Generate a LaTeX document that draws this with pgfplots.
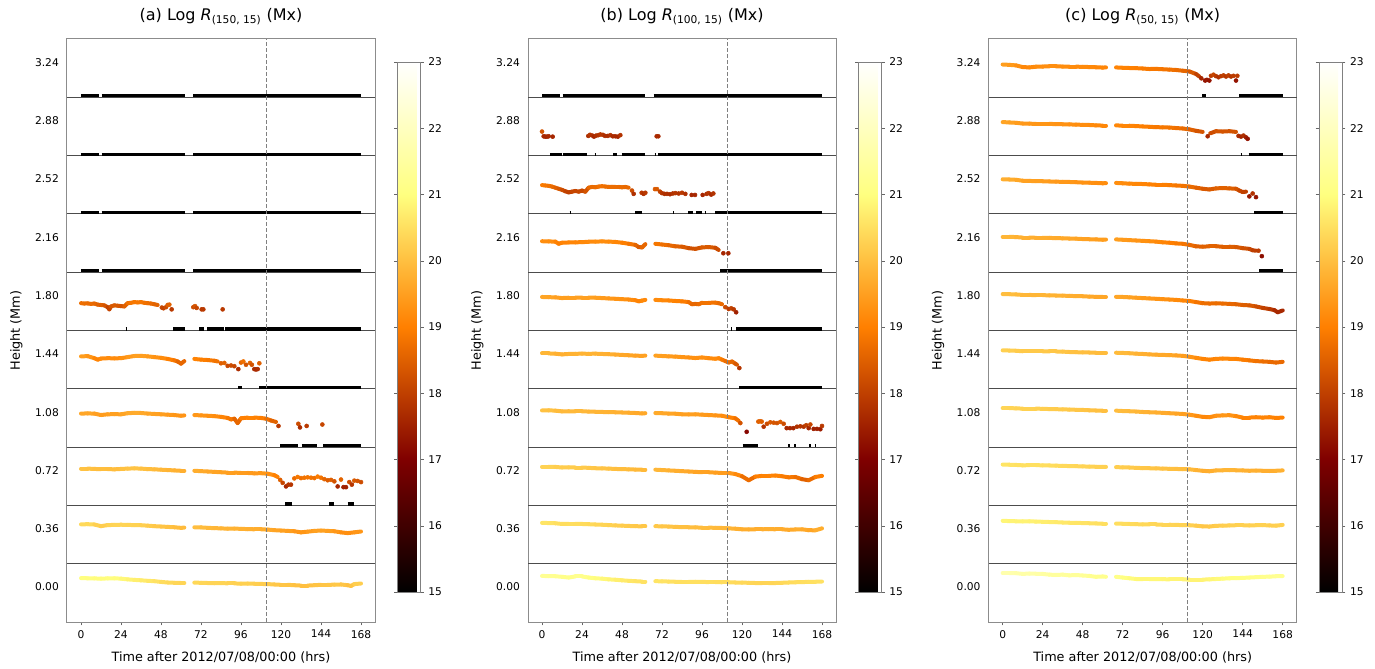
\documentclass[border=0pt]{standalone}
\usepackage{fontspec}
\setmainfont{DejaVu Sans}
\usepackage{pgfplots}
\pgfplotsset{compat=1.18}

\pgfplotsset{
  colormap={afmhot}{rgb=(0,0,0) rgb=(0.5,0,0) rgb=(1,0.5,0) rgb=(1,1,0.5) rgb=(1,1,1)},
  /pgf/number format/assume math mode=true,
  lnst/.style={mesh, mark=none, line width=3pt, line cap=round, line join=round, point meta=\thisrow{v}},
  dtst/.style={scatter, only marks, mark=*, mark size=1.5pt, point meta=\thisrow{v},
    scatter/use mapped color={draw=mapped color, fill=mapped color}},
  bkst/.style={black, line width=2.4pt, mark=none},
  panel/.style={
    scale only axis, width=231pt, height=437.25pt, anchor=south west,
    xmin=-8.4, xmax=176.4, ymin=0, ymax=10, clip=false,
    colormap name=afmhot, point meta min=15, point meta max=23,
    font=\fontsize{8}{9.6}\selectfont,
    xtick={0,24,...,168}, xtick pos=bottom, ytick pos=left,
    ytick={0.6,1.6,2.6,3.6,4.6,5.6,6.6,7.6,8.6,9.6},
    yticklabels={0.00,0.36,0.72,1.08,1.44,1.80,2.16,2.52,2.88,3.24},
    ytick style={draw=none},
    tick align=outside, major tick length=2.6pt,
    xtick style={black!60, line width=0.6pt},
    extra y ticks={1,2,3,4,5,6,7,8,9}, extra y tick labels={},
    extra y tick style={grid=major, major grid style={black!70, line width=0.75pt},
      tick style={draw=black!70, line width=0.75pt}},
    axis line style={black!45, line width=0.75pt},
    xlabel={Time after 2012/07/08/00:00 (hrs)},
    ylabel={Height (Mm)},
    label style={font=\fontsize{9.6}{11.5}\selectfont},
    xlabel style={at={(axis description cs:0.5,-0.0686)}, anchor=base},
    ylabel style={at={(axis description cs:-0.1645,0.5)}, anchor=center},
    title style={at={(axis description cs:0.5,1.0175)}, anchor=base, font=\fontsize{12}{14}\selectfont},
    colorbar,
    colorbar style={
      at={(parent axis.east)}, anchor=west, xshift=8.25pt, yshift=2.6pt,
      scale only axis, width=17.25pt, height=397.5pt,
      ytick={15,16,...,23}, tick align=outside, major tick length=2.5pt,
      yticklabel style={font=\fontsize{8}{9.6}\selectfont},
      axis line style={black!50, line width=0.6pt}, tick style={black!60},
    },
  },
}

\newcommand\segL[2]{\addplot[lnst] table[row sep=\\, y expr={#1+(\thisrow{v}-15)/8}] {t v\\#2};}
\newcommand\segD[2]{\addplot[dtst] table[row sep=\\, y expr={#1+(\thisrow{v}-15)/8}] {t v\\#2};}
\newcommand\segB[3]{\addplot[bkst] table[row sep=\\, y expr={#1+0.025+(\thisrow{v}-15)/8}] {t v\\#2 15\\#3 15\\};}
\newcommand\flare{\addplot[black!50, line width=0.75pt, dash pattern=on 3pt off 1.5pt] coordinates {(111,0) (111,10)};}

\begin{document}
\begin{tikzpicture}
\useasboundingbox (0,0) rectangle (1031.25pt,501pt);

% ---------------- (a) ----------------
\begin{axis}[panel, at={(50.25pt,34.5pt)}, title={(a) Log \textit{R}\textsubscript{(150, 15)} (Mx)}]
\segB{9}{0}{11}\segB{9}{12.4}{62.4}\segB{9}{67.4}{168}
\segB{8}{0}{11}\segB{8}{12.4}{62.4}\segB{8}{67.4}{168}
\segB{7}{0}{11}\segB{7}{12.4}{62.4}\segB{7}{67.4}{168}
\segB{6}{0}{11}\segB{6}{12.4}{62.4}\segB{6}{67.4}{168}
\segB{5}{26.8}{27.4}\segB{5}{55.4}{62.4}\segB{5}{71}{73.6}\segB{5}{75.6}{85.6}\segB{5}{86.4}{168}
\segB{4}{94.4}{96.4}\segB{4}{107}{168}
\segB{3}{119.4}{130.4}\segB{3}{132.4}{141.4}\segB{3}{145.4}{168}
\segB{2}{122.4}{126.4}\segB{2}{149}{152}\segB{2}{160}{164}

\segL{0}{0 21.02\\4 21.0\\8 20.98\\12 20.95\\16 20.98\\20 21.0\\24 20.95\\28 20.85\\32 20.78\\36 20.72\\40 20.65\\44 20.6\\48 20.5\\52 20.42\\56 20.38\\60 20.35\\62 20.35\\}
\segL{0}{68 20.4\\72 20.38\\76 20.35\\80 20.32\\84 20.35\\88 20.3\\92 20.3\\96 20.25\\100 20.28\\104 20.25\\108 20.22\\112 20.2\\116 20.15\\120 20.1\\124 20.1\\128 20.05\\132 20.0\\136 20.0\\140 20.05\\144 20.1\\148 20.1\\152 20.12\\156 20.15\\160 20.05\\162 19.95\\164 20.2\\168 20.28\\}
\segL{1}{0 20.4\\4 20.42\\8 20.38\\12 20.15\\16 20.3\\20 20.32\\24 20.35\\28 20.32\\32 20.3\\36 20.28\\40 20.22\\44 20.15\\48 20.1\\52 20.05\\56 20.0\\60 19.92\\62 19.95\\}
\segL{1}{68 20.0\\72 19.98\\76 19.92\\80 19.88\\84 19.85\\88 19.8\\92 19.82\\96 19.78\\100 19.75\\104 19.72\\108 19.72\\112 19.68\\116 19.6\\120 19.55\\124 19.5\\128 19.45\\132 19.3\\136 19.4\\140 19.5\\144 19.55\\148 19.5\\152 19.45\\156 19.3\\160 19.2\\164 19.3\\168 19.42\\}
\segL{2}{0 20.05\\4 20.05\\8 20.0\\12 19.98\\16 19.98\\20 19.95\\24 20.0\\28 20.05\\32 20.08\\36 20.05\\40 19.98\\44 19.95\\48 19.9\\52 19.85\\56 19.8\\60 19.75\\62 19.75\\}
\segL{2}{68 19.75\\72 19.7\\76 19.65\\80 19.6\\84 19.55\\88 19.5\\92 19.5\\96 19.45\\100 19.45\\104 19.4\\108 19.42\\112 19.35\\116 19.15\\118 18.9\\}
\segD{2}{119.5 18.5\\121 18.1\\123 17.6\\124.5 17.85\\126 17.85\\128 18.7\\130 18.9\\132 18.75\\134 18.8\\136 18.85\\138 18.8\\140 18.75\\142 18.95\\144 18.8\\146 18.6\\148 18.45\\150 18.5\\152 18.3\\154 17.6\\156 18.55\\157.5 17.5\\159 17.5\\161 18.2\\162.5 17.85\\164 18.4\\166 18.35\\168 18.2\\}
\segL{3}{0 19.6\\4 19.62\\8 19.6\\12 19.4\\16 19.5\\20 19.52\\24 19.5\\28 19.65\\32 19.7\\36 19.68\\40 19.6\\44 19.55\\48 19.5\\52 19.45\\56 19.4\\60 19.3\\62 19.35\\}
\segL{3}{68 19.4\\72 19.35\\76 19.3\\80 19.25\\84 19.15\\88 19.0\\90 18.8\\92 18.9\\94 18.3\\96 18.95\\100 19.05\\104 19.05\\108 19.0\\111 18.9\\114 18.65\\117 18.45\\}
\segD{3}{118.5 17.9\\130.4 18.2\\131.4 17.7\\135.4 17.9\\144.8 18.1\\}
\segL{4}{0 19.45\\4 19.48\\8 19.2\\10 19.0\\12 19.15\\16 19.2\\20 19.18\\24 19.2\\28 19.35\\32 19.5\\36 19.52\\40 19.45\\44 19.35\\48 19.25\\52 19.1\\56 18.9\\58 18.75\\60 18.45\\62 18.8\\}
\segL{4}{68 19.1\\72 19.0\\76 18.95\\80 18.85\\82 18.75\\}
\segD{4}{84 18.5\\86 18.55\\88 18.15\\90 18.2\\92 18.1\\94.4 17.7\\96 18.6\\97.4 18.75\\99 18.3\\101.4 18.55\\102.5 18.3\\104 17.7\\105 17.65\\106 17.7\\107 18.5\\}
\segL{5}{0 18.75\\2 18.7\\4 18.72\\6 18.65\\8 18.7\\10 18.55\\12 18.5\\14 18.45\\16 18.2\\17 17.9\\18 18.3\\20 18.45\\22 18.4\\24 18.35\\26 18.3\\28 18.75\\30 18.8\\32 18.9\\34 18.85\\36 18.9\\38 18.8\\40 18.75\\42 18.7\\44 18.6\\46 18.5\\}
\segD{5}{48.5 18.15\\49.5 18.05\\51 18.2\\52 18.5\\53 18.55\\54.4 17.9\\67.4 18.2\\68.4 18.35\\69.4 18.1\\72.4 17.9\\73.4 17.9\\85 17.9\\}
\flare
\end{axis}

% ---------------- (b) ----------------
\begin{axis}[panel, at={(396pt,34.5pt)}, title={(b) Log \textit{R}\textsubscript{(100, 15)} (Mx)}]
\segB{9}{0}{11}\segB{9}{12.4}{62}\segB{9}{67}{168}
\segB{8}{4.8}{11.8}\segB{8}{12.4}{26.8}\segB{8}{31.6}{32}\segB{8}{42.8}{44.8}\segB{8}{47.8}{61.8}\segB{8}{67.6}{68}\segB{8}{69.8}{168}
\segB{7}{16.6}{17.2}\segB{7}{55.8}{59.8}\segB{7}{78.6}{79.2}\segB{7}{87.8}{90.8}\segB{7}{92.4}{95.8}\segB{7}{97.6}{98.2}\segB{7}{103.8}{168}
\segB{6}{106.8}{168}
\segB{5}{113.6}{114.2}\segB{5}{116.4}{168}
\segB{4}{118.4}{168}
\segB{3}{120.4}{129.8}\segB{3}{147.8}{149}\segB{3}{151.4}{152.6}\segB{3}{160.4}{161.4}\segB{3}{163.6}{164.6}

\segL{0}{0 21.32\\4 21.3\\8 21.28\\12 21.2\\16 21.1\\20 21.25\\24 21.25\\28 21.1\\32 21.0\\36 20.95\\40 20.85\\44 20.8\\48 20.72\\52 20.65\\56 20.6\\60 20.55\\62 20.55\\}
\segL{0}{68 20.6\\72 20.58\\76 20.55\\80 20.52\\84 20.5\\88 20.5\\92 20.52\\96 20.5\\100 20.48\\104 20.48\\108 20.45\\112 20.45\\116 20.42\\120 20.4\\124 20.38\\128 20.35\\132 20.33\\136 20.33\\140 20.35\\144 20.38\\148 20.42\\152 20.45\\156 20.48\\160 20.5\\164 20.52\\168 20.55\\}
\segL{1}{0 20.6\\4 20.58\\8 20.55\\12 20.45\\16 20.48\\20 20.48\\24 20.45\\28 20.42\\32 20.38\\36 20.35\\40 20.3\\44 20.25\\48 20.22\\52 20.18\\56 20.15\\60 20.12\\62 20.12\\}
\segL{1}{68 20.15\\72 20.12\\76 20.1\\80 20.05\\84 20.02\\88 20.0\\92 19.98\\96 19.95\\100 19.95\\104 19.92\\108 19.9\\112 19.85\\116 19.8\\120 19.72\\124 19.7\\128 19.72\\132 19.72\\136 19.75\\140 19.72\\144 19.72\\148 19.65\\152 19.7\\156 19.72\\160 19.6\\164 19.58\\168 19.85\\}
\segL{2}{0 20.3\\4 20.3\\8 20.28\\12 20.2\\16 20.22\\20 20.2\\24 20.2\\28 20.15\\32 20.1\\36 20.08\\40 20.05\\44 20.0\\48 19.98\\52 19.95\\56 19.92\\60 19.9\\62 19.9\\}
\segL{2}{68 19.9\\72 19.85\\76 19.8\\80 19.75\\84 19.7\\88 19.65\\92 19.6\\96 19.55\\100 19.55\\104 19.5\\108 19.45\\112 19.45\\116 19.3\\120 19.0\\124 18.45\\128 18.95\\132 19.05\\136 19.05\\140 19.1\\144 19.0\\148 18.85\\152 18.9\\156 18.6\\160 18.45\\164 18.9\\168 19.05\\}
\segL{3}{0 20.03\\4 20.05\\8 20.0\\12 19.9\\16 19.92\\20 19.9\\24 19.9\\28 19.88\\32 19.85\\36 19.82\\40 19.8\\44 19.78\\48 19.75\\52 19.72\\56 19.68\\60 19.62\\62 19.65\\}
\segL{3}{68 19.68\\72 19.65\\76 19.6\\80 19.58\\84 19.5\\88 19.48\\92 19.5\\96 19.45\\100 19.4\\104 19.35\\108 19.3\\112 19.1\\116 18.95\\118 18.6\\}
\segD{3}{119 18.3\\122.8 17.1\\129.8 18.5\\130.8 18.55\\131.8 18.5\\133 17.8\\135 18.2\\137 18.4\\139 18.35\\141 18.3\\143 18.45\\145 18.2\\146.8 17.6\\148.8 17.6\\150.8 17.6\\153 17.8\\155 17.85\\157 17.8\\158.5 18.0\\160 17.6\\161 18.1\\163 17.5\\165 17.5\\167 17.45\\168 17.9\\}
\segL{4}{0 19.85\\4 19.85\\8 19.82\\12 19.72\\16 19.78\\20 19.8\\24 19.82\\28 19.8\\32 19.82\\36 19.78\\40 19.75\\44 19.7\\48 19.65\\52 19.6\\56 19.55\\60 19.52\\62 19.55\\}
\segL{4}{68 19.55\\72 19.5\\76 19.45\\80 19.42\\84 19.35\\88 19.3\\92 19.22\\96 19.3\\100 19.2\\104 19.12\\106 19.2\\108 19.0\\110 18.8\\112 18.6\\114 18.75\\116 18.45\\117 18.3\\}
\segD{4}{118.4 17.85\\}
\segL{5}{0 19.6\\4 19.57\\8 19.55\\12 19.45\\16 19.5\\20 19.5\\24 19.52\\28 19.52\\32 19.5\\36 19.45\\40 19.4\\44 19.35\\48 19.3\\52 19.25\\56 19.15\\58 19.0\\60 19.1\\62 19.2\\}
\segL{5}{68 19.2\\72 19.15\\76 19.12\\80 19.05\\84 19.0\\88 18.9\\90 18.6\\92 18.65\\94 18.6\\96 18.8\\100 18.8\\104 18.82\\106 18.75\\108 18.6\\}
\segD{5}{110 18.2\\112 17.95\\113.5 18.05\\115 17.9\\116.5 17.5\\}
\segL{6}{0 19.25\\4 19.22\\8 19.2\\10 18.9\\12 19.05\\16 19.08\\20 19.1\\24 19.12\\28 19.18\\32 19.2\\36 19.22\\40 19.2\\44 19.15\\48 19.05\\52 18.9\\56 18.75\\58 18.45\\60 18.4\\62 18.85\\}
\segL{6}{68 18.9\\72 18.8\\76 18.7\\80 18.55\\84 18.5\\88 18.3\\92 18.2\\96 18.4\\100 18.45\\104 18.35\\106 18.05\\}
\segD{6}{108.8 17.6\\111.8 17.6\\}
\segL{7}{0 18.95\\2 18.9\\4 18.85\\6 18.75\\8 18.6\\10 18.45\\12 18.3\\14 18.1\\16 17.95\\18 18.05\\20 18.15\\22 18.05\\24 18.2\\26 18.05\\28 18.6\\30 18.7\\32 18.65\\34 18.75\\36 18.8\\38 18.75\\40 18.7\\42 18.72\\44 18.7\\46 18.7\\48 18.65\\50 18.7\\52 18.6\\}
\segD{7}{54 18.2\\55 17.75\\59.8 17.9\\61 17.75\\62 17.9\\67.8 18.4\\69 18.4\\70.8 18.05\\72 17.85\\73.5 17.75\\75 17.75\\76.8 17.7\\78.5 17.8\\80 17.85\\82 17.8\\84 17.9\\86 17.75\\89.8 17.6\\91.8 17.6\\96.4 17.6\\98.8 17.75\\100 17.85\\101.5 17.65\\102.8 17.8\\}
\segD{8}{0 18.3\\1 17.65\\2 17.6\\3 17.6\\4 17.65\\6.4 17.6\\27.8 17.7\\28.8 17.85\\30.2 17.75\\31.2 17.6\\32.5 17.75\\33.8 17.8\\35 17.9\\36.5 17.85\\37.8 17.7\\39.5 17.7\\41 17.8\\42.5 17.65\\44 17.65\\45.5 17.6\\47 17.8\\68.8 17.65\\69.8 17.65\\}
\flare
\end{axis}

% ---------------- (c) ----------------
\begin{axis}[panel, at={(741.5pt,34.5pt)}, title={(c) Log \textit{R}\textsubscript{(50, 15)} (Mx)}]
\segB{9}{119.8}{122}\segB{9}{141.8}{168}
\segB{8}{142.8}{143.2}\segB{8}{147.6}{168}
\segB{7}{151}{168}
\segB{6}{153.8}{168}

\segL{0}{0 21.72\\4 21.72\\8 21.7\\12 21.6\\16 21.65\\20 21.62\\24 21.6\\28 21.5\\32 21.45\\36 21.5\\40 21.4\\44 21.45\\48 21.38\\52 21.32\\56 21.2\\60 21.25\\62 21.2\\}
\segL{0}{68 21.2\\72 21.1\\76 21.0\\80 20.9\\84 20.88\\88 20.88\\92 20.9\\96 20.88\\100 20.85\\104 20.85\\108 20.85\\112 20.82\\116 20.82\\120 20.82\\124 20.85\\128 20.9\\132 20.95\\136 21.0\\140 21.02\\144 21.05\\148 21.1\\152 21.15\\156 21.2\\160 21.22\\164 21.28\\168 21.3\\}
\segL{1}{0 20.88\\4 20.85\\8 20.82\\12 20.8\\16 20.82\\20 20.78\\24 20.75\\28 20.72\\32 20.7\\36 20.65\\40 20.62\\44 20.6\\48 20.58\\52 20.55\\56 20.52\\60 20.5\\62 20.5\\}
\segL{1}{68 20.5\\72 20.48\\76 20.45\\80 20.42\\84 20.4\\88 20.38\\92 20.38\\96 20.35\\100 20.35\\104 20.32\\108 20.3\\112 20.28\\116 20.22\\120 20.12\\124 20.1\\128 20.2\\132 20.22\\136 20.25\\140 20.28\\144 20.28\\148 20.25\\152 20.28\\156 20.3\\160 20.25\\164 20.22\\168 20.32\\}
\segL{2}{0 20.6\\4 20.58\\8 20.55\\12 20.5\\16 20.52\\20 20.52\\24 20.5\\28 20.48\\32 20.45\\36 20.42\\40 20.4\\44 20.38\\48 20.35\\52 20.32\\56 20.3\\60 20.27\\62 20.28\\}
\segL{2}{68 20.25\\72 20.22\\76 20.2\\80 20.15\\84 20.12\\88 20.1\\92 20.08\\96 20.05\\100 20.02\\104 20.0\\108 19.98\\112 19.95\\116 19.85\\120 19.75\\124 19.68\\128 19.8\\132 19.82\\136 19.85\\140 19.82\\144 19.8\\148 19.75\\152 19.78\\156 19.75\\160 19.72\\164 19.75\\168 19.8\\}
\segL{3}{0 20.35\\4 20.35\\8 20.32\\12 20.28\\16 20.28\\20 20.28\\24 20.25\\28 20.22\\32 20.2\\36 20.18\\40 20.15\\44 20.12\\48 20.1\\52 20.05\\56 20.02\\60 20.0\\62 20.0\\}
\segL{3}{68 20.0\\72 19.95\\76 19.92\\80 19.88\\84 19.82\\88 19.78\\92 19.75\\96 19.7\\100 19.65\\104 19.6\\108 19.55\\112 19.45\\116 19.3\\120 19.15\\124 19.1\\128 19.3\\132 19.35\\136 19.38\\140 19.25\\144 19.05\\148 19.05\\152 19.1\\156 19.05\\160 19.1\\164 19.0\\168 19.05\\}
\segL{4}{0 20.28\\4 20.25\\8 20.22\\12 20.15\\16 20.15\\20 20.15\\24 20.15\\28 20.12\\32 20.12\\36 20.1\\40 20.05\\44 20.02\\48 20.0\\52 19.98\\56 19.95\\60 19.95\\62 19.95\\}
\segL{4}{68 19.95\\72 19.92\\76 19.88\\80 19.82\\84 19.78\\88 19.72\\92 19.68\\96 19.65\\100 19.62\\104 19.58\\108 19.52\\112 19.4\\116 19.25\\120 19.1\\124 19.0\\128 19.1\\132 19.15\\136 19.12\\140 19.1\\144 19.0\\148 18.9\\152 18.8\\156 18.75\\160 18.7\\164 18.6\\168 18.7\\}
\segL{5}{0 20.0\\4 19.98\\8 19.95\\12 19.88\\16 19.88\\20 19.85\\24 19.85\\28 19.82\\32 19.8\\36 19.78\\40 19.75\\44 19.72\\48 19.7\\52 19.65\\56 19.62\\60 19.6\\62 19.6\\}
\segL{5}{68 19.62\\72 19.6\\76 19.55\\80 19.5\\84 19.45\\88 19.4\\92 19.35\\96 19.3\\100 19.25\\104 19.2\\108 19.12\\112 19.05\\116 18.9\\120 18.75\\124 18.7\\128 18.72\\132 18.7\\136 18.65\\140 18.6\\144 18.5\\148 18.45\\152 18.3\\156 18.1\\160 17.95\\163 17.8\\165 17.5\\168 17.75\\}
\segL{6}{0 19.85\\4 19.85\\8 19.82\\12 19.75\\16 19.75\\20 19.72\\24 19.72\\28 19.7\\32 19.68\\36 19.65\\40 19.62\\44 19.6\\48 19.55\\52 19.52\\56 19.5\\60 19.45\\62 19.48\\}
\segL{6}{68 19.5\\72 19.45\\76 19.4\\80 19.35\\84 19.3\\88 19.25\\92 19.2\\96 19.1\\100 19.05\\104 18.95\\108 18.9\\112 18.75\\116 18.55\\120 18.5\\124 18.55\\128 18.55\\132 18.5\\136 18.5\\140 18.45\\144 18.3\\148 18.2\\150 18.0\\152 17.95\\}
\segD{6}{153.5 17.95\\155.5 17.2\\}
\segL{7}{0 19.75\\4 19.72\\8 19.68\\12 19.55\\16 19.52\\20 19.5\\24 19.48\\28 19.45\\32 19.42\\36 19.4\\40 19.38\\44 19.35\\48 19.3\\52 19.28\\56 19.25\\60 19.2\\62 19.22\\}
\segL{7}{68 19.25\\72 19.2\\76 19.15\\80 19.12\\84 19.1\\88 19.05\\92 19.0\\96 19.0\\100 18.95\\104 18.9\\108 18.85\\112 18.75\\116 18.6\\120 18.45\\124 18.35\\128 18.5\\132 18.55\\136 18.5\\140 18.45\\142 18.2\\144 18.0\\146 18.05\\}
\segD{7}{148 17.4\\150 17.8\\152 17.3\\}
\segL{8}{0 19.6\\4 19.55\\8 19.5\\12 19.4\\16 19.38\\20 19.35\\24 19.35\\28 19.35\\32 19.32\\36 19.3\\40 19.28\\44 19.25\\48 19.22\\52 19.2\\56 19.15\\60 19.12\\62 19.12\\}
\segL{8}{68 19.15\\72 19.1\\76 19.1\\80 19.05\\84 19.0\\88 18.95\\92 18.9\\96 18.88\\100 18.85\\104 18.78\\108 18.72\\112 18.6\\116 18.4\\120 18.25\\}
\segD{8}{123 17.65\\}
\segL{8}{124.5 18.05\\128 18.35\\132 18.3\\136 18.35\\140 18.25\\}
\segD{8}{141.5 17.7\\143 17.6\\144.5 17.75\\146 17.5\\147 17.3\\}
\segL{9}{0 19.5\\4 19.45\\8 19.38\\12 19.15\\16 19.1\\20 19.2\\24 19.22\\28 19.25\\32 19.25\\36 19.22\\40 19.2\\44 19.2\\48 19.18\\52 19.15\\56 19.12\\60 19.08\\62 19.1\\}
\segL{9}{68 19.1\\72 19.05\\76 19.02\\80 19.0\\84 18.95\\88 18.88\\92 18.9\\96 18.85\\100 18.8\\104 18.75\\108 18.65\\112 18.55\\116 18.2\\118 17.85\\}
\segD{9}{119.2 17.6\\121.5 17.3\\122.5 17.4\\124 17.3\\125 17.95\\126.5 18.1\\128 17.9\\129.5 17.75\\131 17.9\\132.5 18.0\\134 17.85\\135.5 18.0\\137 17.85\\138.5 17.95\\140 17.3\\140.8 17.95\\}
\flare
\end{axis}
\end{tikzpicture}
\end{document}
